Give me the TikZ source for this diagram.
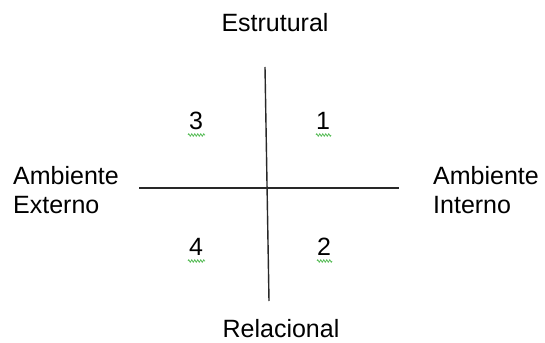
\documentclass[tikz,border=0pt]{standalone}
\usepackage{fontspec}
\setmainfont{Liberation Sans}
\usetikzlibrary{decorations.pathmorphing}
\definecolor{squig}{RGB}{90,190,90}
\definecolor{axis}{RGB}{40,40,40}
\begin{document}
\begin{tikzpicture}[x=1pt,y=-1pt,
  lbl/.style={font=\fontsize{25}{29}\selectfont, inner sep=0pt, text=black},
  num/.style={font=\fontsize{25}{29}\selectfont, inner sep=0pt, text=black},
  axisline/.style={draw=axis, line width=1.4pt},
  squiggle/.style={draw=squig, line width=0.8pt, decorate, decoration={zigzag, segment length=3pt, amplitude=1.2pt}}]
\useasboundingbox[fill=white] (0,0) rectangle (545,342);
% axes
\coordinate (vtop) at (265,67);
\coordinate (vbot) at (269,301);
\coordinate (hl) at (139,188);
\coordinate (hr) at (399,188);
\draw[axisline] (vtop) -- (vbot);
\draw[axisline] (hl) -- (hr);
% labels
\node[lbl, anchor=base] (est) at (275,32) {Estrutural};
\node[lbl, anchor=base] (rel) at (281,337) {Relacional};
\node[lbl, anchor=north west, align=left] (ext) at (13,166) {Ambiente\\Externo};
\node[lbl, anchor=north west, align=left] (int) at (433,166) {Ambiente\\Interno};
% numbers
\node[num, anchor=base] (n3) at (196,129) {3};
\node[num, anchor=base] (n1) at (323,129) {1};
\node[num, anchor=base] (n4) at (196,255) {4};
\node[num, anchor=base] (n2) at (324,255) {2};
% spell-check squiggles
\draw[squiggle] ([xshift=-8pt,yshift=-6pt]n3.base) -- ([xshift=9pt,yshift=-6pt]n3.base);
\draw[squiggle] ([xshift=-7pt,yshift=-6pt]n1.base) -- ([xshift=8pt,yshift=-6pt]n1.base);
\draw[squiggle] ([xshift=-8pt,yshift=-6pt]n4.base) -- ([xshift=9pt,yshift=-6pt]n4.base);
\draw[squiggle] ([xshift=-7pt,yshift=-6pt]n2.base) -- ([xshift=8pt,yshift=-6pt]n2.base);
\end{tikzpicture}
\end{document}
